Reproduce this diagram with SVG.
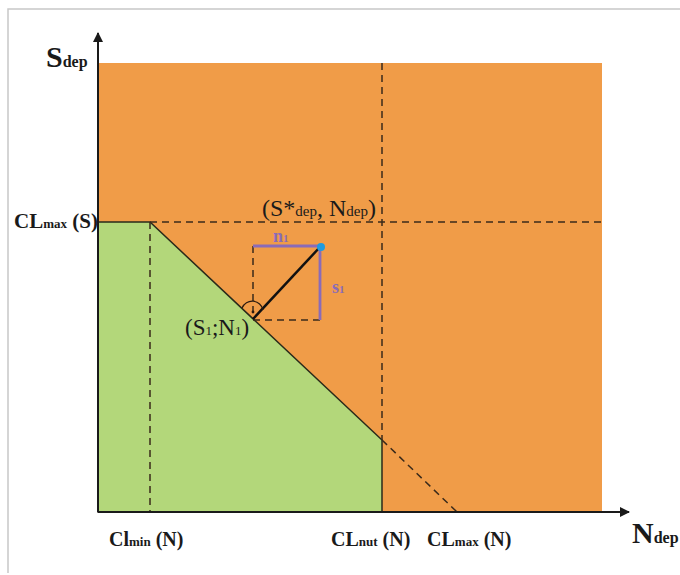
<svg xmlns="http://www.w3.org/2000/svg" width="680" height="575" viewBox="0 0 680 575">
<style>
.lbl{font-family:"Liberation Serif","Times New Roman",serif;fill:#1a1a1a}
.b{font-weight:bold}
.dash{stroke:#3a2a1a;stroke-width:1.5;stroke-dasharray:7,5;fill:none}
.pur{stroke:#8a6bb8;stroke-width:2.8;fill:none}
.ptxt{font-family:"Liberation Serif",serif;font-weight:bold;fill:#8a6bb8}
</style>
<defs>
<marker id="arr" markerWidth="10" markerHeight="10" refX="9" refY="5" orient="auto" markerUnits="userSpaceOnUse">
<path d="M0,0 L10,5 L0,10 Z" fill="#1a1a1a"/>
</marker>
</defs>
<rect x="0" y="0" width="680" height="575" fill="#fff"/>
<path d="M8,573 L8,9 L680,9" fill="none" stroke="#c8c8c8" stroke-width="1.5"/>
<g id="regions">
<rect id="orange" x="98" y="63" width="504" height="449" fill="#f09c48"/>
<polygon id="green" points="98,222 150,222 382,440 382,512 98,512" fill="#b3d77a" stroke="#2a2a1a" stroke-width="1.5"/>
</g>
<g id="connectors">
<line class="dash" x1="150" y1="222" x2="602" y2="222"/>
<line class="dash" x1="382" y1="63" x2="382" y2="440"/>
<line class="dash" x1="150" y1="222" x2="150" y2="512"/>
<line class="dash" x1="382" y1="440" x2="457" y2="512"/>
<line class="dash" x1="253" y1="246" x2="253" y2="318" stroke-width="1.3"/>
<line class="dash" x1="253" y1="320" x2="320" y2="320" stroke-width="1.3"/>
<polyline class="pur" points="253,246 320,246 320,320"/>
<line x1="253" y1="319" x2="320" y2="247" stroke="#111" stroke-width="2.5"/>
<path d="M242,308 A11,11 0 0 1 263,310" fill="none" stroke="#2a1a10" stroke-width="1.2"/>
<circle cx="253" cy="312" r="1.4" fill="#2a1a10"/>
<circle cx="321" cy="247" r="4" fill="#1e9be0"/>
<line x1="98" y1="512" x2="98" y2="33" stroke="#1a1a1a" stroke-width="2" marker-end="url(#arr)"/>
<line x1="98" y1="512" x2="629" y2="512" stroke="#1a1a1a" stroke-width="2" marker-end="url(#arr)"/>
</g>
<g id="labels">
<text class="lbl b" x="46" y="67" font-size="30">S<tspan font-size="16">dep</tspan></text>
<text class="lbl b" x="14" y="228" font-size="21">CL<tspan font-size="13">max</tspan> (S)</text>
<text class="lbl" x="262" y="216" font-size="24">(S*<tspan font-size="15">dep</tspan>, N<tspan font-size="15">dep</tspan>)</text>
<text class="ptxt" x="273" y="242" font-size="18">n<tspan font-size="11">1</tspan></text>
<text class="ptxt" x="332" y="293" font-size="18">s<tspan font-size="11">1</tspan></text>
<text class="lbl" x="185" y="335" font-size="23">(S<tspan font-size="13">1</tspan>;N<tspan font-size="13">1</tspan>)</text>
<text class="lbl b" x="109" y="546" font-size="20">Cl<tspan font-size="13">min</tspan> (N)</text>
<text class="lbl b" x="331" y="546" font-size="20">CL<tspan font-size="13">nut</tspan> (N)</text>
<text class="lbl b" x="427" y="546" font-size="20">CL<tspan font-size="13">max</tspan> (N)</text>
<text class="lbl b" x="632" y="543" font-size="30">N<tspan font-size="16">dep</tspan></text>
</g>
</svg>
